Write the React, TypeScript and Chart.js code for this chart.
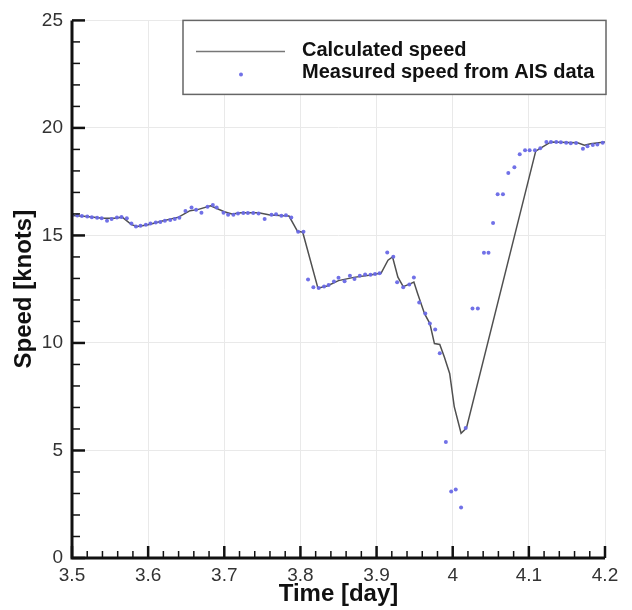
import React, { useEffect, useRef } from "react";
import { Chart, registerables } from "chart.js";

Chart.register(...registerables);

// ---- data ----
const calcTime = [
  3.5, 3.52, 3.54, 3.556, 3.566, 3.578, 3.586, 3.6, 3.62, 3.64, 3.655, 3.665, 3.682, 3.7, 3.71,
  3.722, 3.745, 3.76, 3.785, 3.796, 3.803, 3.823, 3.835, 3.85, 3.87, 3.89, 3.906, 3.915, 3.921,
  3.928, 3.935, 3.944, 3.949, 3.954, 3.963, 3.97, 3.976, 3.983, 3.989, 3.996, 4.002, 4.011, 4.018,
  4.109, 4.116, 4.129, 4.164, 4.173, 4.181, 4.2,
];
const calcSpeed = [
  15.93, 15.88, 15.8, 15.8, 15.85, 15.5, 15.42, 15.5, 15.68, 15.85, 16.15, 16.2, 16.38, 16.1, 16.0,
  16.05, 16.05, 15.95, 15.9, 15.2, 15.15, 12.55, 12.65, 12.9, 13.05, 13.15, 13.25, 13.85, 14.0,
  13.06, 12.62, 12.75, 12.83, 12.29, 11.36, 10.9, 9.97, 9.93, 9.35, 8.58, 7.04, 5.8, 6.04,
  18.92, 19.07, 19.35, 19.31, 19.2, 19.26, 19.35,
];

const measTime = [
  3.5, 3.507, 3.513, 3.52, 3.526, 3.533, 3.539, 3.546, 3.552, 3.559, 3.565, 3.572, 3.578, 3.584,
  3.59, 3.597, 3.603, 3.61, 3.616, 3.622, 3.629, 3.635, 3.641, 3.649, 3.657, 3.663, 3.67, 3.678,
  3.685, 3.69, 3.699, 3.705, 3.712, 3.718, 3.725, 3.731, 3.738, 3.745, 3.753, 3.762, 3.768, 3.775,
  3.781, 3.788, 3.797, 3.804, 3.81, 3.817, 3.824, 3.831, 3.837, 3.844, 3.85, 3.858, 3.865, 3.871,
  3.878, 3.885, 3.892, 3.898, 3.904, 3.914, 3.922, 3.927, 3.935, 3.943, 3.949, 3.956, 3.964, 3.97,
  3.977, 3.983, 3.991, 3.998, 4.004, 4.011, 4.017, 4.026, 4.033, 4.041, 4.047, 4.053, 4.059, 4.066,
  4.073, 4.081, 4.088, 4.095, 4.101, 4.108, 4.115, 4.123, 4.129, 4.136, 4.142, 4.149, 4.155, 4.162,
  4.171, 4.177, 4.184, 4.19, 4.197,
];
const measSpeed = [
  15.95, 15.93, 15.9, 15.88, 15.85, 15.82, 15.8, 15.68, 15.76, 15.83, 15.86, 15.8, 15.55, 15.42,
  15.45, 15.5, 15.55, 15.6, 15.62, 15.68, 15.72, 15.76, 15.82, 16.14, 16.3, 16.19, 16.06, 16.33,
  16.41, 16.3, 16.06, 15.96, 15.96, 16.02, 16.04, 16.04, 16.04, 16.02, 15.76, 15.96, 15.99, 15.91,
  15.94, 15.83, 15.17, 15.17, 12.95, 12.59, 12.55, 12.62, 12.7, 12.86, 13.03, 12.87, 13.13, 12.98,
  13.13, 13.18, 13.17, 13.21, 13.24, 14.21, 14.01, 12.82, 12.59, 12.72, 13.04, 11.88, 11.37, 10.91,
  10.63, 9.52, 5.4, 3.09, 3.18, 2.35, 6.05, 11.6, 11.6, 14.19, 14.19, 15.58, 16.92, 16.92,
  17.9, 18.17, 18.78, 18.96, 18.96, 18.96, 19.05, 19.35, 19.35, 19.34, 19.33, 19.31, 19.29, 19.3,
  19.03, 19.15, 19.2, 19.23, 19.31,
];

const xTicks = [3.5, 3.6, 3.7, 3.8, 3.9, 4.0, 4.1, 4.2];
const yTicks = [0, 5, 10, 15, 20, 25];
const legendLabels = ["Calculated speed", "Measured speed from AIS data"];
const xTitle = "Time [day]";
const yTitle = "Speed [knots]";

const FONT = "'Liberation Sans', Arial, Helvetica, sans-serif";
const DOT_COLOR = "rgba(105,105,230,0.95)";
const LINE_COLOR = "#505050";

const extrasPlugin = {
  id: "extras",
  afterDraw(chart: any) {
    const ctx = chart.ctx;
    const xs = chart.scales.x;
    const ys = chart.scales.y;
    const { left, right, top, bottom } = chart.chartArea;
    ctx.save();
    ctx.strokeStyle = "#111";
    ctx.lineWidth = 2.5;
    ctx.lineCap = "butt";
    // x ticks (inward) with 4 minor ticks per interval
    for (let i = 0; i < xTicks.length; i++) {
      const px = xs.getPixelForValue(xTicks[i]);
      ctx.beginPath();
      ctx.moveTo(px, bottom);
      ctx.lineTo(px, bottom - 12);
      ctx.stroke();
      if (i < xTicks.length - 1) {
        const step = (xTicks[i + 1] - xTicks[i]) / 5;
        ctx.lineWidth = 1.5;
        for (let k = 1; k < 5; k++) {
          const mx = xs.getPixelForValue(xTicks[i] + k * step);
          ctx.beginPath();
          ctx.moveTo(mx, bottom);
          ctx.lineTo(mx, bottom - 7);
          ctx.stroke();
        }
        ctx.lineWidth = 2.5;
      }
    }
    // y ticks
    for (let i = 0; i < yTicks.length; i++) {
      const py = ys.getPixelForValue(yTicks[i]);
      ctx.beginPath();
      ctx.moveTo(left, py);
      ctx.lineTo(left + 13, py);
      ctx.stroke();
      if (i < yTicks.length - 1) {
        const step = (yTicks[i + 1] - yTicks[i]) / 5;
        ctx.lineWidth = 1.5;
        for (let k = 1; k < 5; k++) {
          const my = ys.getPixelForValue(yTicks[i] + k * step);
          ctx.beginPath();
          ctx.moveTo(left, my);
          ctx.lineTo(left + 8, my);
          ctx.stroke();
        }
        ctx.lineWidth = 2.5;
      }
    }
    // axis lines
    ctx.lineWidth = 3;
    ctx.beginPath();
    ctx.moveTo(left, top);
    ctx.lineTo(left, bottom);
    ctx.lineTo(right, bottom);
    ctx.stroke();

    // legend
    const bx = left + 111;
    const by = top;
    const bw = right + 1 - bx;
    const bh = 74;
    ctx.fillStyle = "#fff";
    ctx.fillRect(bx, by, bw, bh);
    ctx.strokeStyle = "#666";
    ctx.lineWidth = 1.5;
    ctx.strokeRect(bx, by, bw, bh);
    ctx.strokeStyle = "#777";
    ctx.lineWidth = 1.5;
    ctx.beginPath();
    ctx.moveTo(bx + 13, by + 31);
    ctx.lineTo(bx + 102, by + 31);
    ctx.stroke();
    ctx.fillStyle = DOT_COLOR;
    ctx.beginPath();
    ctx.arc(bx + 58, by + 54, 2, 0, Math.PI * 2);
    ctx.fill();
    ctx.fillStyle = "#111";
    ctx.font = `bold 20px ${FONT}`;
    ctx.textBaseline = "middle";
    ctx.textAlign = "left";
    ctx.fillText(legendLabels[0], bx + 119, by + 30);
    ctx.fillText(legendLabels[1], bx + 119, by + 52);
    ctx.restore();
  },
};

export default function App() {
  const canvasRef = useRef<HTMLCanvasElement | null>(null);

  useEffect(() => {
    const canvas = canvasRef.current;
    if (!canvas) return;
    const chart = new Chart(canvas, {
      type: "scatter",
      data: {
        datasets: [
          {
            label: legendLabels[1],
            data: measTime.map((t, i) => ({ x: t, y: measSpeed[i] })),
            pointRadius: 2,
            pointBackgroundColor: DOT_COLOR,
            pointBorderWidth: 0,
            showLine: false,
            order: 0,
          },
          {
            label: legendLabels[0],
            data: calcTime.map((t, i) => ({ x: t, y: calcSpeed[i] })),
            showLine: true,
            borderColor: LINE_COLOR,
            borderWidth: 1.5,
            pointRadius: 0,
            tension: 0,
            order: 1,
          },
        ],
      },
      options: {
        responsive: false,
        animation: false,
        events: [],
        layout: { padding: { left: 0, top: 19, right: 27, bottom: 0 } },
        plugins: { legend: { display: false }, tooltip: { enabled: false } },
        scales: {
          x: {
            type: "linear",
            min: 3.5,
            max: 4.2,
            afterBuildTicks: (s: any) => {
              s.ticks = xTicks.map((v) => ({ value: v }));
            },
            afterFit: (s: any) => {
              s.height = 52;
            },
            grid: { color: "#e9e9e9", lineWidth: 1, drawTicks: false },
            border: { display: false },
            ticks: {
              padding: 6,
              color: "#333",
              font: { family: FONT, size: 19 },
              maxRotation: 0,
              autoSkip: false,
              callback: (v: any) => String(Number(Number(v).toFixed(1))),
            },
            title: {
              display: true,
              text: xTitle,
              color: "#111",
              font: { family: FONT, size: 24, weight: "bold" },
              padding: { top: 0, bottom: 1 },
            },
          },
          y: {
            type: "linear",
            min: 0,
            max: 25,
            afterBuildTicks: (s: any) => {
              s.ticks = yTicks.map((v) => ({ value: v }));
            },
            afterFit: (s: any) => {
              s.width = 72;
            },
            grid: { color: "#e9e9e9", lineWidth: 1, drawTicks: false },
            border: { display: false },
            ticks: {
              padding: 9,
              color: "#333",
              font: { family: FONT, size: 19 },
              autoSkip: false,
              callback: (v: any) => String(v),
            },
            title: {
              display: true,
              text: yTitle,
              color: "#111",
              font: { family: FONT, size: 24, weight: "bold" },
              padding: { top: 10, bottom: 0 },
            },
          },
        },
      },
      plugins: [extrasPlugin],
    });
    return () => chart.destroy();
  }, []);

  return (
    <div style={{ position: "fixed", left: 0, top: 0, width: 632, height: 610, background: "#fff" }}>
      <canvas ref={canvasRef} width={632} height={610} style={{ display: "block" }} />
    </div>
  );
}
